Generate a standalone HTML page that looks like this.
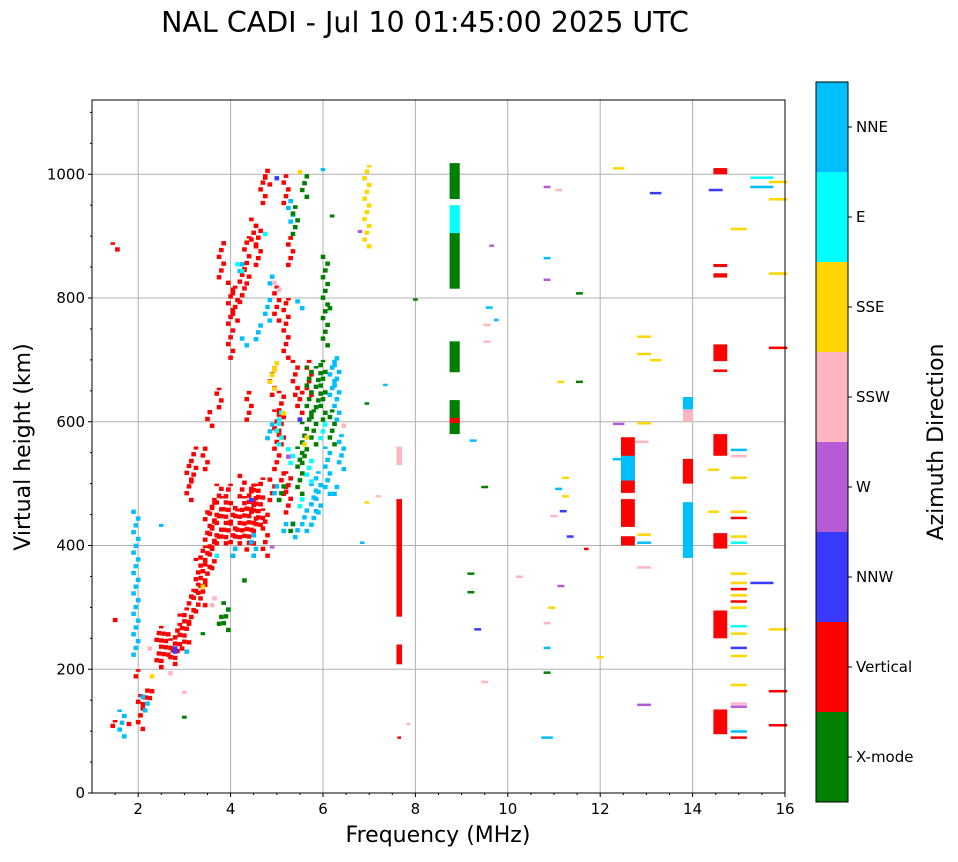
<!DOCTYPE html>
<html><head><meta charset="utf-8"><style>
body{margin:0;background:#fff;font-family:"Liberation Sans","DejaVu Sans",sans-serif;}
svg text{font-family:"DejaVu Sans","Liberation Sans",sans-serif;}
</style></head><body>
<svg id="chart" width="958" height="857" viewBox="0 0 958 857" xmlns="http://www.w3.org/2000/svg">
<text x="425" y="32" font-size="28.5" text-anchor="middle">NAL CADI - Jul 10 01:45:00 2025 UTC</text>
<g id="grid"></g>
<g id="marks"></g>
<rect x="92" y="100" width="693" height="693" fill="none" stroke="#000" stroke-width="1"/>
<g id="axes"></g>
<text x="438" y="842" font-size="22" text-anchor="middle">Frequency (MHz)</text>
<text x="30" y="447" font-size="22" text-anchor="middle" transform="rotate(-90 30 447)">Virtual height (km)</text>
<g id="cbar"></g>
<text x="943" y="442" font-size="22" text-anchor="middle" transform="rotate(-90 943 442)">Azimuth Direction</text>
</svg>
<script>
const dirNames=["X-mode","Vertical","NNW","W","SSW","SSE","E","NNE"];
const dirColors=["#008000","#ff0000","#3a3aff","#b65bd6","#ffb6c1","#ffd700","#00ffff","#00bfff"];
const xTicks=[2,4,6,8,10,12,14,16];
const yTicks=[0,200,400,600,800,1000];
// cloud spans: freq, low h, high h, dir
const cloudF=[1.5,1.5,1.5,1.85,1.95,2.05,2.15,2.25,2.45,2.55,2.65,2.75,2.85,2.95,3.05,3.15,3.25,3.1,3.2,3.3,3.4,3.5,3.6,3.65,3.75,3.75,3.85,3.95,4.05,4.15,4.25,4.35,4.45,4.55,4.65,4.75,3.8,4.0,4.1,4.25,4.35,4.5,4.6,4.7,4.8,5.0,5.1,5.2,5.3,5.5,5.7,5.25,3.45,3.55,4.4,4.9,5.0,5.2,5.4,4.5,4.9,5.15,
1.65,1.95,2.15,2.45,3.1,4.05,4.3,4.6,4.5,4.8,5.2,5.4,5.6,5.8,5.9,6.1,6.2,6.3,6.4,6.3,6.0,5.5,4.9,5.3,5.0,4.85,4.2,
4.7,5.1,5.5,5.7,6.0,5.3,4.2,3.75,5.05,
3.9,3.8,4.3,5.5,5.6,5.7,5.8,5.9,6.0,6.05,6.2,6.2,5.6,5.4,3.4,2.95,5.1,5.3,6.2,
2.35,3.4,4.9,5.2,5.5,6.95,5.0,5.6,
2.2,3.05,3.6,5.0,6.5,2.7,
4.85,5.3,6.8,
2.75,2.85,4.45,5.45,5.05];
const cloudLo=[105,276,875,108,185,100,140,150,200,210,220,205,215,230,240,270,290,470,500,320,300,340,360,380,400,620,400,410,380,400,410,390,400,420,430,380,830,700,760,790,820,880,850,950,980,520,560,700,850,600,640,450,520,590,600,640,760,950,640,440,470,480,
88,220,130,430,225,380,720,730,380,760,420,410,420,430,450,480,640,600,520,480,1005,780,820,920,470,570,840,
900,600,460,500,570,530,840,380,560,
260,270,340,480,530,600,560,620,600,720,780,930,960,900,255,120,470,420,560,
185,330,650,610,1000,880,680,560,
230,160,300,810,590,190,
395,540,905,
225,230,470,600,990];
const cloudHi=[118,286,890,118,200,160,170,170,270,265,260,250,275,290,300,330,340,540,560,380,400,460,480,470,500,655,480,500,470,460,520,480,500,500,510,460,895,830,820,850,900,930,920,1000,1010,620,650,800,900,650,700,520,560,620,650,690,820,1000,700,500,510,520,
135,460,160,435,235,400,740,760,420,800,440,440,460,500,520,560,700,710,580,500,1010,800,840,960,500,600,860,
910,620,480,540,600,560,860,390,600,
310,290,350,560,600,690,620,690,700,870,790,935,1000,950,260,125,500,440,620,
195,340,690,620,1010,1015,700,580,
240,165,320,830,600,200,
400,550,910,
235,240,480,610,1000];
const cloudDir=[1,1,1,1,1,1,1,1,1,1,1,1,1,1,1,1,1,1,1,1,1,1,1,1,1,1,1,1,1,1,1,1,1,1,1,1,1,1,1,1,1,1,1,1,1,1,1,1,1,1,1,1,1,1,1,1,1,1,1,1,1,1,
7,7,7,7,7,7,7,7,7,7,7,7,7,7,7,7,7,7,7,7,7,7,7,7,7,7,7,
6,6,6,6,6,6,6,6,6,
0,0,0,0,0,0,0,0,0,0,0,0,0,0,0,0,0,0,0,
5,5,5,5,5,5,5,5,
4,4,4,4,4,4,
3,3,3,
2,2,2,2,2];
// wide bins: freq, low, high, dir
const wideF=[8.85,8.85,8.85,8.85,8.85,8.85,7.65,7.65,7.65,12.6,12.6,12.6,12.6,13.9,13.9,13.9,13.9,14.6,14.6,14.6,14.6,14.6,14.6,14.6,14.6];
const wideLo=[815,905,960,680,580,598,285,530,208,400,430,485,505,380,500,600,620,95,250,395,545,698,833,850,1000];
const wideHi=[905,950,1018,730,635,606,475,560,240,415,475,575,545,470,540,640,640,135,295,420,580,725,840,855,1010];
const wideDir=[0,6,0,0,0,1,1,4,1,1,1,1,7,7,1,4,7,1,1,1,1,1,1,1,1];
const wideW=[0.22,0.22,0.22,0.22,0.22,0.22,0.12,0.12,0.12,0.3,0.3,0.3,0.3,0.22,0.22,0.22,0.22,0.3,0.3,0.3,0.3,0.3,0.3,0.3,0.3];
// single-height dashes: freq, height, dir
const dashF=[7.65,7.85,8.0,7.2,7.35,6.95,6.95,6.85,9.2,9.2,9.5,9.35,9.5,9.25,9.55,9.55,9.6,9.75,9.65,10.25,10.85,10.85,10.85,10.85,10.95,10.85,10.85,10.85,11.1,11.0,11.1,11.25,11.25,11.2,11.35,11.15,11.15,11.55,11.55,11.7,12.0,12.4,12.4,12.4,12.95,12.95,12.95,12.95,12.9,12.95,12.95,12.95,13.2,13.2,14.45,14.45,14.5,14.6,
15.0,15.0,15.0,15.0,15.0,15.0,15.0,15.0,15.0,15.0,15.0,15.0,15.0,15.0,15.0,15.0,15.0,15.0,15.0,15.0,15.0,15.0,15.0,
15.5,15.5,15.5,15.85,15.85,15.85,15.85,15.85,15.85,15.85];
const dashH=[90,112,798,480,660,470,630,405,355,325,180,265,495,570,730,757,785,765,885,350,90,195,235,275,300,830,865,980,975,448,492,480,510,456,415,335,665,665,808,395,220,540,597,1010,143,365,405,418,568,598,710,738,700,970,455,523,975,683,
90,100,140,145,175,222,235,258,270,300,310,320,330,340,355,405,415,445,455,510,545,555,912,
340,980,995,110,165,265,720,840,960,988];
const dashDir=[1,4,0,4,7,5,0,7,0,0,4,2,0,7,4,4,7,7,3,4,7,0,7,4,5,3,7,3,4,4,7,5,5,2,2,3,5,0,0,1,5,7,3,5,3,4,7,5,4,5,5,5,5,2,5,5,2,1,
1,7,3,4,5,5,2,5,6,5,1,5,1,5,5,6,5,1,5,5,4,7,5,
2,7,6,1,1,5,1,5,5,5];
const dashW=[0.08,0.08,0.1,0.1,0.1,0.1,0.1,0.1,0.15,0.15,0.15,0.15,0.15,0.15,0.15,0.15,0.15,0.1,0.1,0.15,0.25,0.15,0.15,0.15,0.15,0.15,0.15,0.15,0.15,0.15,0.15,0.15,0.15,0.15,0.15,0.15,0.15,0.15,0.15,0.1,0.15,0.25,0.25,0.25,0.3,0.3,0.3,0.3,0.3,0.3,0.3,0.3,0.25,0.25,0.25,0.25,0.3,0.3,
0.35,0.35,0.35,0.35,0.35,0.35,0.35,0.35,0.35,0.35,0.35,0.35,0.35,0.35,0.35,0.35,0.35,0.35,0.35,0.35,0.35,0.35,0.35,
0.5,0.5,0.5,0.4,0.4,0.4,0.4,0.4,0.4,0.4];

const NS="http://www.w3.org/2000/svg";
const X0=92,X1=785,Y0=793,Y1=100,XMIN=1,XMAX=16,YMIN=0,YMAX=1120;
const xs=f=>X0+(f-XMIN)/(XMAX-XMIN)*(X1-X0);
const ys=h=>Y0-(h-YMIN)/(YMAX-YMIN)*(Y0-Y1);
function mk(tag,attrs,parent){const e=document.createElementNS(NS,tag);for(const k in attrs)e.setAttribute(k,attrs[k]);parent.appendChild(e);return e;}
const grid=document.getElementById('grid'),axes=document.getElementById('axes'),marks=document.getElementById('marks'),cbar=document.getElementById('cbar');
xTicks.forEach(t=>{
  const x=xs(t);
  if(t<XMAX){const g=mk('line',{x1:x,x2:x,y1:Y1,y2:Y0,stroke:'#b0b0b0','stroke-width':1},grid);
  
  }
  mk('line',{x1:x,x2:x,y1:Y0,y2:Y0+4,stroke:'#000'},axes);
  const tx=mk('text',{x:x,y:Y0+21,'font-size':15,'text-anchor':'middle'},axes);tx.textContent=t;
  
  
});
for(let m=1.5;m<16;m+=0.5){if(m%2===0)continue;mk('line',{x1:xs(m),x2:xs(m),y1:Y0,y2:Y0+2,stroke:'#000'},axes);}
yTicks.forEach(t=>{
  const y=ys(t);
  if(t>YMIN){const g=mk('line',{x1:X0,x2:X1,y1:y,y2:y,stroke:'#b0b0b0','stroke-width':1},grid);
  
  }
  mk('line',{x1:X0-4,x2:X0,y1:y,y2:y,stroke:'#000'},axes);
  const tx=mk('text',{x:X0-7,y:y+5,'font-size':15,'text-anchor':'end'},axes);tx.textContent=t;
  
  
});
for(let m=50;m<1120;m+=50){if(m%200===0)continue;mk('line',{x1:X0-2,x2:X0,y1:ys(m),y2:ys(m),stroke:'#000'},axes);}
function bar(f,lo,hi,d,w,name){
  const x=xs(f-w/2),wd=xs(f+w/2)-x,y=ys(hi),h=Math.max(ys(lo)-y,2.5);
  const r=mk('rect',{x:x,y:y,width:wd,height:h,fill:dirColors[d]},marks);
  
  
}
// cloud spans rendered as broken, staggered range-gate cells
cloudF.forEach((f,i)=>{
  const lo=cloudLo[i],hi=cloudHi[i];
  let k=0;
  for(let h=lo;h<hi;h+=11){
    const off=((k+i)%3-1)*0.05;
    bar(f+off,h,Math.min(h+7,hi),cloudDir[i],0.1,'echo-cell');
    k++;
  }
});
wideF.forEach((f,i)=>bar(f,wideLo[i],wideHi[i],wideDir[i],wideW[i],'echo-bin'));
dashF.forEach((f,i)=>bar(f,dashH[i]-1.5,dashH[i]+1.5,dashDir[i],dashW[i],'echo-dash'));
// colorbar
const CBX=816,CBW=32,CBT=82,CBB=802,seg=(CBB-CBT)/dirNames.length;
dirNames.forEach((n,i)=>{
  const y=CBB-(i+1)*seg;
  const r=mk('rect',{x:CBX,y:y,width:CBW,height:seg,fill:dirColors[i]},cbar);
  
  
  mk('line',{x1:CBX+CBW,x2:CBX+CBW+4,y1:y+seg/2,y2:y+seg/2,stroke:'#000'},cbar);
  const t=mk('text',{x:CBX+CBW+8,y:y+seg/2+5,'font-size':15},cbar);t.textContent=n;
  
  
});
mk('rect',{x:CBX,y:CBT,width:CBW,height:CBB-CBT,fill:'none',stroke:'#000'},cbar);
</script>
</body></html>
